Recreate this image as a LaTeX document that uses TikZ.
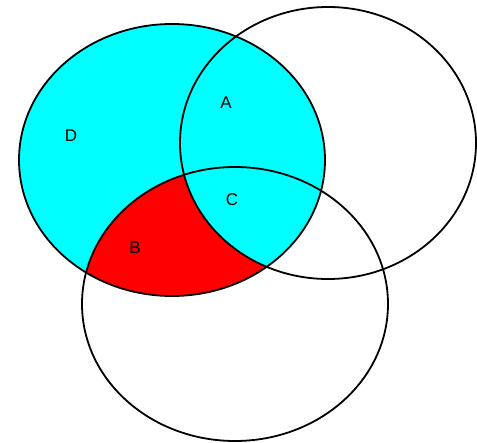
\documentclass[tikz,border=0pt]{standalone}
\usepackage{fontspec}
\setmainfont{Liberation Sans}
\usepackage{tikz}
\usetikzlibrary{positioning}
\usepackage{xcolor}
\definecolor{vcyan}{RGB}{0,255,255}
\definecolor{vred}{RGB}{255,0,0}

\begin{document}
\begin{tikzpicture}[x=1pt, y=-1pt, line width=1.8pt,
    setlabel/.style={font=\fontsize{17}{17}\selectfont, inner sep=0pt}]
    \useasboundingbox (0,0) rectangle (477,443);

    % Circles
    \def\leftset{(172,160) ellipse [x radius=153, y radius=136]}
    \def\rightset{(328,143) ellipse [x radius=148, y radius=136]}
    \def\lowset{(235,304) ellipse [x radius=153, y radius=137]}

    % Shading
    \fill[vcyan] \leftset;
    \begin{scope}
        \clip \leftset;
        \clip \lowset;
        \fill[vred] \lowset;
        \clip \rightset;
        \fill[vcyan] \rightset;
    \end{scope}

    % Outlines
    \draw \leftset;
    \draw \rightset;
    \draw \lowset;

    % Labels
    \node[setlabel] (d) at (71,136) {D};
    \node[setlabel] (a) at (226,103) {A};
    \node[setlabel] (c) at (232,200) {C};
    \node[setlabel] (b) at (135,248) {B};
\end{tikzpicture}
\end{document}
